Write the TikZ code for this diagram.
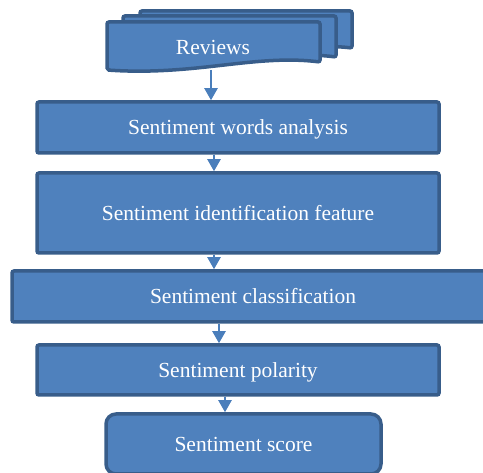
\documentclass[tikz,border=0pt]{standalone}
\usepackage{fontspec}
\setmainfont{Liberation Serif}
\usetikzlibrary{arrows.meta}
\definecolor{fillc}{HTML}{4F81BD}
\definecolor{bdr}{HTML}{385D8A}
\definecolor{arrc}{HTML}{4A7EBB}
\tikzset{
  box/.style={draw=bdr, fill=fillc, line width=3.5pt, rounded corners=2pt, text=white,
    font=\fontsize{21.5}{24}\selectfont, inner sep=0pt, text height=19pt, text depth=4pt},
  docshape/.style={draw=bdr, fill=fillc, line width=3.5pt, rounded corners=2pt},
  arr/.style={draw=arrc, line width=2.2pt, -{Triangle[width=13pt,length=12pt]}}
}
\begin{document}
\begin{tikzpicture}[x=1pt,y=-1pt]
\useasboundingbox (0,0) rectangle (483,473);
% stacked documents (back ones)
\path[docshape] (140,11) -- (352,11) -- (352,48) .. controls (300,42) and (240,58) .. (140,54) -- cycle;
\path[docshape] (123,16) -- (336,16) -- (336,57) .. controls (280,50) and (220,66) .. (123,62) -- cycle;
\path[docshape] (107,22) -- (320,22) -- (320,62) .. controls (255,54) and (195,76) .. (107,70) -- cycle;
\node[text=white, font=\fontsize{21.5}{24}\selectfont, inner sep=0pt, text height=19pt, text depth=4pt] (rev) at (213,47) {Reviews};
\coordinate (revbot) at (211,70);
% boxes
\node[box, minimum width=402pt, minimum height=51pt] (b2) at (238,127.5) {Sentiment words analysis};
\node[box, minimum width=402pt, minimum height=80pt] (b3) at (238,213) {Sentiment identification feature};
\node[box, minimum width=482pt, minimum height=51pt] (b4) at (253,296.5) {Sentiment classification};
\node[box, minimum width=402pt, minimum height=50pt] (b5) at (238,370) {Sentiment polarity};
\node[box, rounded corners=10pt, minimum width=275pt, minimum height=60pt] (b6) at (243.5,444) {Sentiment score};
% arrows
\draw[arr] (revbot) -- (revbot |- b2.north);
\draw[arr] ([xshift=-24pt]b2.south) -- ([xshift=-24pt]b3.north);
\draw[arr] ([xshift=-24pt]b3.south) -- ([xshift=-39pt]b4.north);
\draw[arr] ([xshift=-34pt]b4.south) -- ([xshift=-19pt]b5.north);
\draw[arr] ([xshift=-13pt]b5.south) -- ([xshift=-18.5pt]b6.north);
\end{tikzpicture}
\end{document}
